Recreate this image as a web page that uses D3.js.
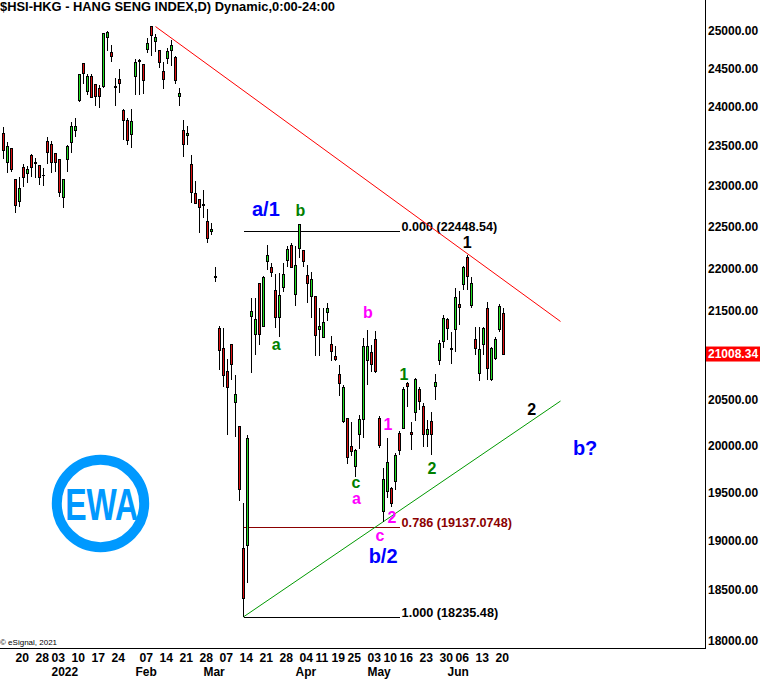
<!DOCTYPE html>
<html><head><meta charset="utf-8">
<script src="https://cdn.jsdelivr.net/npm/d3@7"></script>
<style>html,body{margin:0;padding:0;background:#fff;} svg{display:block;}</style>
</head><body>
<svg id="c" width="760" height="679"></svg>
<script>
// ---------- DATA (HSI daily, 15 Dec 2021 .. 22 Jun 2022) ----------
const opens = [23660,23297,23468,23081,22803,23226,23152,23383,23290,23251,
23131,23562,23523,23404,23328,22853,23328,23540,23693,24078,
24565,24196,24401,24284,24241,24270,24915,24708,24261,24349,
23956,23829,23647,24398,24600,24552,24754,25060,24856,24744,
24462,24627,24735,24646,24131,23702,23634,23264,22907,22833,
22765,22560,22440,21905,21302,21073,20810,21111,20464,20203,
18921,18955,21435,21233,21824,21320,22085,22005,21734,21428,
21777,22098,22267,21698,22239,22218,21910,21667,21675,21290,
21200,21480,21111,20985,20778,20256,20286,19983,19771,20113,
20276,20934,21028,21168,20286,19297,19507,19543,19613,20124,
20185,20673,20140,20357,20606,20419,20113,20257,20643,20934,
21149,21404,21075,21290,21580,21804,22124,21560,21168,20792,
21120,21534,20723,20960,21282,21475];
const highs = [23746,23552,23470,23085,23106,23268,23245,23396,23348,23251,
23216,23609,23565,23412,23330,23085,23510,23803,23851,24430,
24570,24428,24428,24290,24284,24977,25000,24812,24372,24498,
23978,23850,23978,24623,24623,24552,24902,25060,24960,24744,
24583,24767,24879,24664,24240,23833,23754,23383,23060,22833,
22948,22710,22548,22013,21328,21302,20950,21111,20773,20203,
19384,20112,21648,21648,21824,21910,22279,22066,21934,21942,
22066,22267,22307,22267,22533,22218,22041,21960,21675,21531,
21531,21590,21214,21096,20883,20661,20286,20257,19962,20330,
21188,21283,21111,21274,20322,19754,20077,19553,19915,20159,
20643,20699,20250,20736,20636,20457,20276,20367,20784,21168,
21454,21416,21264,21772,21736,22029,22160,21900,21320,21320,
21320,21602,21092,21200,21577,21530];
const lows = [23336,23157,23170,22666,22741,22989,23039,23106,23094,23010,
23000,23268,23157,23177,22861,22721,23170,23412,23609,24060,
24296,24153,24110,24009,23985,24248,24735,24587,24009,24175,
23574,23511,23478,24153,24153,24166,24708,24664,24721,24511,
24231,24565,24529,24296,24009,23354,23511,22790,22780,22420,
22600,22307,22400,21843,20831,20642,20113,20717,20090,19412,
18235.48,18575,20795,21000,21111,21320,21981,21896,21302,21206,
21724,22017,22005,21558,22118,22017,21592,21420,20990,20990,
21195,21380,20930,20930,20534,20240,19800,19882,19663,19958,
20077,20661,20806,20800,19973,19195,19437,19342,19525,19895,
20180,20420,19950,20266,20384,19986,19986,19895,20494,20883,
21073,21168,20900,21035,21340,21746,21744,21530,21000,20700,
21000,20717,20700,20940,21260,21000];
const closes = [23438,23489,23200,22758,22969,23106,23203,23233,23280,23098,
23131,23412,23285,23296,22915,23081,23498,23747,23747,24415,
24439,24401,24117,24130,24140,24969,24982,24664,24255,24297,
23820,23574,23817,24579,24590,24340,24834,24937,24915,24573,
24354,24731,24812,24340,24175,23523,23660,22915,22783,22730,
22760,22360,22468,21900,21053,20762,20636,20892,20550,19525,
18415,20077,21500,21408,21225,21894,22158,21952,21420,21686,
21930,22227,22009,22039,22521,22085,21816,21871,21217,21320,
21370,21530,21034,20950,20681,20636,19871,19936,19940,20276,
21091,21099,20890,20806,20001,19631,19813,19384,19895,19950,
20613,20643,20120,20717,20476,20113,20167,20113,20691,21123,
21416,21294,21065,21656,21540,22013,21900,21822,21073,21065,
21302,20845,21073,21168,21557,21008.34];

const yTicks = [18000,18500,19000,19500,20000,20500,21000,21500,22000,22500,23000,23500,24000,24500,25000];
const dayTickIdx = [3,8,12,17,22,27,34,39,44,49,54,59,64,69,74,78,82,86,91,95,99,104,109,113,118,123];
const dayTickLabels = ["20","28","03","10","17","24","07","14","21","28","07","14","21","28","04","11","19","25","03","10","16","23","30","06","13","20"];
const monthIdx = [12,33,50,73,91,111];
const monthLabels = ["2022","Feb","Mar","Apr","May","Jun"];
const lastPrice = 21008.34;

const fibLevels = [22448.54, 19137.0748, 18235.48];
const fibRatios = ["0.000","0.786","1.000"];
const fibColors = ["#000000","#8b0000","#000000"];
const fibSpan = [60, 99.1];

const redTrend = [[38, 25060],[139.25, 21380]];
const greenTrend = [[60, 18235.48],[139.25, 20483]];

const waveText   = ["a/1","b","a","b","1","1","2","c","a","2","c","b/2","1","2","b?"];
const waveIdx    = [65.6, 74.2, 68.2, 91.1, 100.1, 96.1, 107.1, 88.1, 88.25, 97.1, 94.1, 94.9, 115.9, 132.05, 145.4];
const waveVal    = [22624, 22630, 21054, 21420, 20722, 20166, 19694, 19545, 19380, 19182, 18996, 18773, 22243, 20330, 19897];
const waveColor  = ["#0000ff","#008000","#008000","#ff00ff","#008000","#ff00ff","#008000","#008000","#ff00ff","#ff00ff","#ff00ff","#0000ff","#000000","#000000","#0000ff"];
const waveSize   = [20,16,16,16,16,16,16,16,16,16,16,20,16,16,20];

// ---------- DRAW ----------
const FONT = "'Liberation Sans', Arial, Helvetica, sans-serif";
const svg = d3.select("#c");
const plotRight = 705.5, plotBottom = 648.5;
const x = d3.scaleLinear().domain([0,125]).range([3.5,503.5]);
const y = d3.scaleLog().domain([18000,25000]).range([641,31]);
const GREEN = "#22dd22", RED = "#dd1111";

svg.append("defs").append("clipPath").attr("id","clip")
  .append("rect").attr("x",0).attr("y",0).attr("width",705).attr("height",648);

// title
svg.append("text").attr("x",0).attr("y",10.5)
  .attr("font-family",FONT).attr("font-weight","bold").attr("font-size",12.5)
  .attr("textLength",335).attr("lengthAdjust","spacingAndGlyphs")
  .text("$HSI-HKG - HANG SENG INDEX,D) Dynamic,0:00-24:00");

// logo
const logo = svg.append("g");
logo.append("circle").attr("cx",100.5).attr("cy",503.5).attr("r",43.7)
  .attr("fill","#fff").attr("stroke","#0099ff").attr("stroke-width",10);
logo.append("text").attr("x",101.7).attr("y",520).attr("text-anchor","middle")
  .attr("font-family",FONT).attr("font-weight","bold").attr("font-size",44)
  .attr("fill","#0099ff").attr("textLength",73).attr("lengthAdjust","spacingAndGlyphs").text("EWA");

// copyright
svg.append("text").attr("x",0).attr("y",645).attr("font-family",FONT).attr("font-size",8)
  .text("\u00a9 eSignal, 2021");

const g = svg.append("g").attr("clip-path","url(#clip)");
const data = opens.map((o,i)=>({i,o,h:highs[i],l:lows[i],c:closes[i]}));

// fib lines
fibLevels.forEach((lv,k)=>{
  g.append("line").attr("x1",x(fibSpan[0])).attr("x2",x(fibSpan[1]))
    .attr("y1",Math.round(y(lv))+0.5).attr("y2",Math.round(y(lv))+0.5)
    .attr("stroke",fibColors[k]).attr("stroke-width",1).attr("shape-rendering","crispEdges");
  const widths=[95.6,110.3,96.6];
  g.append("text").attr("x",x(fibSpan[1])+1.7).attr("y",Math.round(y(lv))-0.5)
    .attr("font-family",FONT).attr("font-weight","bold").attr("font-size",13.5)
    .attr("fill",fibColors[k]).attr("textLength",widths[k]).attr("lengthAdjust","spacingAndGlyphs")
    .text(`${fibRatios[k]} (${lv})`);
});

// trendlines
const lineGen = d3.line().x(d=>x(d[0])).y(d=>y(d[1]));
g.append("path").attr("d",lineGen(redTrend)).attr("stroke","#ff0000").attr("stroke-width",1).attr("fill","none");
g.append("path").attr("d",lineGen(greenTrend)).attr("stroke","#009900").attr("stroke-width",1).attr("fill","none");

// candles
g.selectAll("line.wick").data(data).join("line").attr("class","wick")
  .attr("x1",d=>x(d.i)).attr("x2",d=>x(d.i)).attr("y1",d=>y(d.h)).attr("y2",d=>y(d.l))
  .attr("stroke","#000").attr("stroke-width",1).attr("shape-rendering","crispEdges");
g.selectAll("rect.body").data(data).join("rect").attr("class","body")
  .attr("x",d=>x(d.i)-1).attr("width",2)
  .attr("y",d=>y(Math.max(d.o,d.c)))
  .attr("height",d=>Math.max(0.6, y(Math.min(d.o,d.c))-y(Math.max(d.o,d.c))))
  .attr("fill",d=>d.c>=d.o?GREEN:RED).attr("stroke","#000").attr("stroke-width",1)
  .attr("shape-rendering","crispEdges");

// wave labels
g.selectAll("text.wave").data(waveText).join("text").attr("class","wave")
  .attr("x",(d,k)=>x(waveIdx[k])).attr("y",(d,k)=>y(waveVal[k]))
  .attr("text-anchor","middle").attr("font-family",FONT).attr("font-weight","bold")
  .attr("font-size",(d,k)=>waveSize[k]).attr("fill",(d,k)=>waveColor[k]).text(d=>d);

// frame
svg.append("line").attr("x1",plotRight).attr("x2",plotRight).attr("y1",0).attr("y2",plotBottom+0.5)
  .attr("stroke","#000").attr("stroke-width",1).attr("shape-rendering","crispEdges");
svg.append("line").attr("x1",0).attr("x2",plotRight).attr("y1",plotBottom).attr("y2",plotBottom)
  .attr("stroke","#000").attr("stroke-width",1).attr("shape-rendering","crispEdges");

// y axis
const yAxis = d3.axisRight(y).tickValues(yTicks).tickFormat(d3.format(".2f")).tickSize(0).tickPadding(2.5);
const ya = svg.append("g").attr("transform",`translate(${plotRight},0)`).call(yAxis);
ya.select(".domain").remove();
ya.attr("font-family",FONT).attr("font-size",12);
ya.selectAll("text").attr("font-weight","bold").attr("fill","#000");

// last price tag
const ly = y(lastPrice);
svg.append("rect").attr("x",706).attr("y",ly-7.5).attr("width",54).attr("height",15).attr("fill","#ff0000");
svg.append("text").attr("x",708).attr("y",ly).attr("dy","0.35em").attr("font-family",FONT)
  .attr("font-weight","bold").attr("font-size",12).attr("fill","#fff").text(d3.format(".2f")(lastPrice));

// x axes
function squeeze(f){ return sel=>sel.each(function(){ const w=this.getComputedTextLength(); this.setAttribute("textLength",w*f); this.setAttribute("lengthAdjust","spacingAndGlyphs"); }); }
const xa = svg.append("g").attr("transform",`translate(0,${plotBottom})`)
  .call(d3.axisBottom(x).tickValues(dayTickIdx).tickFormat((d,k)=>dayTickLabels[k]).tickSize(0));
xa.select(".domain").remove();
xa.attr("font-family",FONT).attr("font-size",13.5);
xa.selectAll("text").attr("text-anchor","start").attr("x",-0.5).attr("y",13.2).attr("dy",null)
  .attr("font-weight","bold").attr("fill","#000").call(squeeze(0.9));

const ma = svg.append("g").attr("transform",`translate(0,${plotBottom})`)
  .call(d3.axisBottom(x).tickValues(monthIdx).tickFormat((d,k)=>monthLabels[k]).tickSize(0));
ma.select(".domain").remove();
ma.attr("font-family",FONT).attr("font-size",13);
ma.selectAll("text").attr("text-anchor","start").attr("x",-0.5).attr("y",27.8).attr("dy",null)
  .attr("font-weight","bold").attr("fill","#000").call(squeeze(0.92));
</script>
</body></html>
